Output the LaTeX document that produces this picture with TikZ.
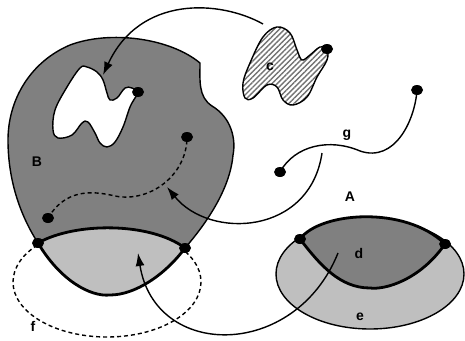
\documentclass[tikz,border=0pt]{standalone}
\usepackage{fontspec}
\setmainfont{Liberation Sans}
\usetikzlibrary{arrows.meta,shapes.geometric,patterns.meta}

\begin{document}
\begin{tikzpicture}[x=1pt, y=-1pt, line join=round,
  region/.style={draw=black, line width=1.4pt},
  bound/.style={draw=black, line width=2.8pt},
  darkfill/.style={fill=black!50},
  lightfill/.style={fill=black!25},
  blackdot/.style={ellipse, fill=black, minimum width=12pt, minimum height=10pt, inner sep=0pt},
  arr/.style={-{Latex[length=13pt,width=9pt]}, line width=1.4pt},
  lbl/.style={font=\bfseries\fontsize{14}{16}\selectfont, inner sep=0pt}]
\useasboundingbox (0,0) rectangle (465,340);
% f: dashed ellipse behind B
\draw[line width=1.4pt, dash pattern=on 4pt off 3pt] (107,282) ellipse [x radius=94, y radius=55];
% region B
\path[region, darkfill] (38,243) .. controls (20,215) and (8,180) .. (8,140)
  .. controls (8,100) and (30,62) .. (70,45) .. controls (110,30) and (170,38) .. (200,63)
  .. controls (200,80) and (198,97) .. (212,106) .. controls (232,118) and (236,140) .. (233,155)
  .. controls (230,190) and (205,225) .. (185,248)
  .. controls (150,222) and (75,222) .. (38,243) -- cycle;
% hole in B
\path[region, fill=white] plot[smooth cycle, tension=0.6] coordinates {(80,68) (67,87) (55,110) (53,130) (58,138) (72,135) (82,123) (88,122) (95,133) (100,143) (107,147) (115,142) (123,127) (130,107) (135,98) (138,92) (132,88) (125,88) (117,98) (110,100) (107,93) (103,80) (97,72) (87,67)};
% dashed path in B
\draw[line width=1.4pt, dash pattern=on 4pt off 3pt] (48,218) .. controls (65,190) and (90,190) .. (115,196) .. controls (150,203) and (187,175) .. (187,137);
% lower part of B
\path[bound, lightfill] (38,243) .. controls (60,280) and (90,297) .. (110,295)
  .. controls (135,295) and (165,275) .. (185,248)
  .. controls (150,222) and (75,222) .. (38,243) -- cycle;
% region c
\path[region, pattern={Lines[angle=45, distance=3.7pt, line width=1.4pt]}, pattern color=black!55] plot[smooth cycle, tension=0.6] coordinates {(327,49) (327,60) (317,77) (307,97) (293,105) (283,100) (277,87) (267,85) (253,98) (245,98) (243,83) (250,63) (263,37) (277,27) (290,33) (297,50) (302,60) (310,55) (320,47)};
% path g
\draw[line width=1.4pt] (280,172) .. controls (295,145) and (330,138) .. (360,151) .. controls (395,163) and (415,120) .. (417,90);
% regions e and A
\path[region, lightfill] (370,274) ellipse [x radius=94, y radius=55];
\path[bound, darkfill] (300,239) .. controls (320,212) and (405,205) .. (445,244)
  .. controls (420,280) and (385,290) .. (370,288) .. controls (340,288) and (320,265) .. (300,239) -- cycle;
% points
\node[blackdot] (bl) at (38,243) {};
\node[blackdot] (br) at (185,248) {};
\node[blackdot] (hd) at (138,92) {};
\node[blackdot] (pu) at (187,137) {};
\node[blackdot] (pl) at (48,218) {};
\node[blackdot] (cd) at (327,49) {};
\node[blackdot] (gl) at (280,172) {};
\node[blackdot] (gr) at (417,90) {};
\node[blackdot] (al) at (300,239) {};
\node[blackdot] (ar) at (445,244) {};
% arrows
\coordinate (cs) at (263,24); \coordinate (ht) at (103,75);
\coordinate (gs) at (322,153); \coordinate (pt) at (167,187);
\coordinate (ds) at (338,253); \coordinate (lt) at (138,253);
\draw[arr] (cs) .. controls (220,0) and (140,-5) .. (ht);
\draw[arr] (gs) .. controls (310,235) and (210,240) .. (pt);
\draw[arr] (ds) .. controls (295,360) and (155,360) .. (lt);
% labels
\node[lbl] (lB) at (37,162) {B};
\node[lbl] (lc) at (270,67) {c};
\node[lbl] (lg) at (347,135) {g};
\node[lbl] (lA) at (350,197) {A};
\node[lbl] (ld) at (359,253) {d};
\node[lbl] (le) at (360,317) {e};
\node[lbl] (lf) at (33,326) {f};
\end{tikzpicture}
\end{document}
